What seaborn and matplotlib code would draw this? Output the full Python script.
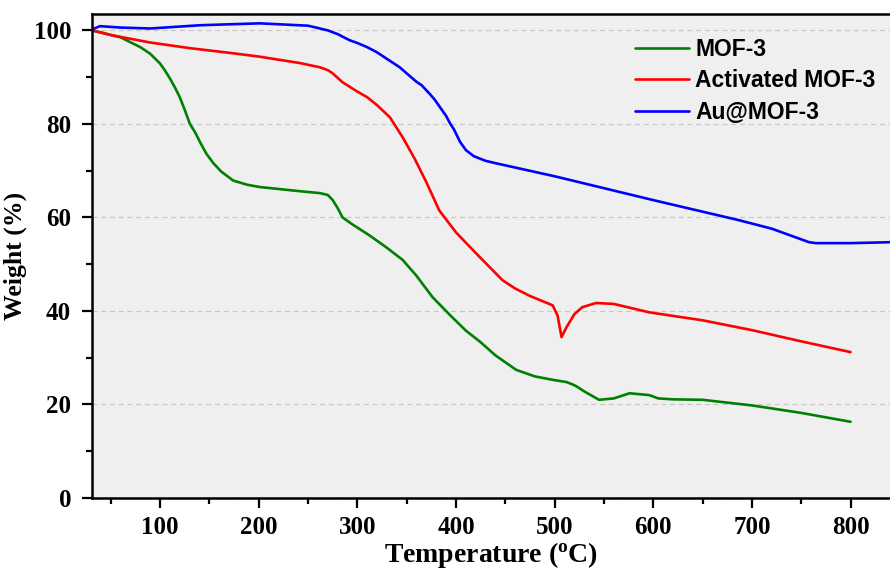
import matplotlib
matplotlib.use("Agg")
import matplotlib.pyplot as plt
import seaborn as sns
import pandas as pd
from matplotlib.ticker import MultipleLocator

# ---- data ----
series_names = ["MOF-3", "Activated MOF-3", "Au@MOF-3"]
series_colors = ["#008000", "#ff0000", "#0000ff"]

T_mof3 = [31, 39, 60, 80, 90, 100, 105, 110, 115, 120, 125, 130, 136, 141, 147, 154, 162, 174,
          188, 201, 242, 262, 270, 275, 280, 285, 295, 312, 330, 346, 360, 376, 394, 410, 425,
          440, 461, 480, 500, 512, 518, 522, 530, 545, 560, 576, 596, 605, 620, 650, 700, 750, 800]
W_mof3 = [100, 99.6, 98.5, 96.4, 95.0, 92.9, 91.4, 89.7, 87.8, 85.7, 83.0, 80.1, 78.0, 75.9, 73.6,
          71.6, 69.8, 67.9, 67.0, 66.5, 65.6, 65.2, 64.8, 63.7, 62, 60, 58.5, 56.2, 53.5, 50.9,
          47.5, 43, 39.1, 35.8, 33.3, 30.5, 27.4, 26, 25.2, 24.8, 24.3, 23.9, 22.8, 21, 21.3,
          22.4, 22.0, 21.3, 21.1, 21, 19.8, 18.2, 16.3]

T_act = [31, 50, 90, 130, 174, 200, 242, 262, 270, 275, 285, 300, 310, 320, 333, 346, 358, 370,
         383, 400, 420, 447, 460, 475, 490, 498, 503, 507, 512, 520, 528, 542, 560, 596, 650, 700,
         750, 800]
W_act = [100, 99, 97.4, 96.2, 95.1, 94.4, 93, 92.1, 91.5, 90.8, 88.9, 86.9, 85.7, 84, 81.4, 77.1,
         72.6, 67.5, 61.5, 56.8, 52.4, 46.6, 44.8, 43.2, 41.9, 41.2, 39, 34.4, 36.5, 39.3, 40.8,
         41.7, 41.5, 39.7, 38, 35.9, 33.5, 31.2]

T_au = [31, 39, 60, 90, 141, 201, 250, 270, 280, 292, 300, 310, 320, 330, 343, 350, 360, 365,
        373, 378, 385, 390, 394, 398, 404, 410, 418, 424, 430, 440, 500, 600, 687, 720, 758,
        765, 800, 840]
W_au = [100.2, 100.9, 100.6, 100.4, 101.1, 101.5, 101.0, 100.0, 99.2, 97.9, 97.3, 96.4, 95.3,
        93.9, 92.1, 90.8, 89.0, 88.3, 86.5, 85.3, 83.2, 81.7, 80.1, 78.8, 76.2, 74.4, 73.1,
        72.6, 72.1, 71.6, 68.8, 63.7, 59.4, 57.6, 54.7, 54.5, 54.5, 54.7]

x_ticks = [100, 200, 300, 400, 500, 600, 700, 800]
y_ticks = [0, 20, 40, 60, 80, 100]

frames = []
for name, T, W in zip(series_names, [T_mof3, T_act, T_au], [W_mof3, W_act, W_au]):
    frames.append(pd.DataFrame({"T": T, "W": W, "Sample": name}))
df = pd.concat(frames, ignore_index=True)

sns.set_style("white")
plt.rcParams["mathtext.fontset"] = "custom"
plt.rcParams["mathtext.rm"] = "Liberation Serif:bold"
plt.rcParams["mathtext.bf"] = "Liberation Serif:bold"
plt.rcParams["text.color"] = "black"
plt.rcParams["axes.labelcolor"] = "black"
plt.rcParams["xtick.color"] = "black"
plt.rcParams["ytick.color"] = "black"

fig = plt.figure(figsize=(8.9, 5.76), dpi=100)
ax = fig.add_axes([0.1034, 0.1354, 0.8966, 0.8403])
ax.set_facecolor("#efefef")

sns.lineplot(data=df, x="T", y="W", hue="Sample", hue_order=series_names,
             palette=dict(zip(series_names, series_colors)), estimator=None, sort=False,
             linewidth=1.9, ax=ax)

ax.set_xlim(31, 840)
ax.set_ylim(0, 103.5)
ax.set_xticks(x_ticks)
ax.set_yticks(y_ticks)
ax.xaxis.set_minor_locator(MultipleLocator(50))
ax.yaxis.set_minor_locator(MultipleLocator(10))
ax.yaxis.grid(True, which="major", linestyle=(0, (4, 3)), color="#c8c8c8", linewidth=0.9)
ax.xaxis.grid(False)
ax.set_axisbelow(True)

for s in ["left", "bottom", "top"]:
    ax.spines[s].set_linewidth(1.8)
    ax.spines[s].set_color("black")
ax.spines["right"].set_visible(False)

ax.tick_params(axis="both", which="major", direction="out", length=7, width=1.6,
               left=True, bottom=True, labelsize=18, colors="black")
ax.tick_params(axis="x", which="major", pad=6)
ax.tick_params(axis="y", which="major", pad=8)
ax.tick_params(axis="both", which="minor", direction="out", length=4, width=1.6,
               left=True, bottom=True, colors="black")
for lab in ax.get_xticklabels() + ax.get_yticklabels():
    lab.set_fontfamily("Liberation Serif")
    lab.set_fontweight("bold")

ax.set_xlabel(r"Temperature ($\mathbf{^o}$C)", fontfamily="Liberation Serif",
              fontweight="bold", fontsize=20, labelpad=1, color="black")
ax.set_ylabel("Weight (%)", fontfamily="Liberation Serif", fontweight="bold",
              fontsize=18.5, labelpad=5, color="black")

handles, labels = ax.get_legend_handles_labels()
leg = ax.legend(handles, labels, loc="upper left", bbox_to_anchor=(0.680, 0.950), frameon=False,
                prop={"family": "Liberation Sans", "weight": "bold", "size": 16.5},
                handlelength=2.35, handletextpad=0.3, labelspacing=0.36, borderpad=0,
                borderaxespad=0)
for t in leg.get_texts():
    t.set_color("black")

fig.savefig("out.png", dpi=100, facecolor="white")
